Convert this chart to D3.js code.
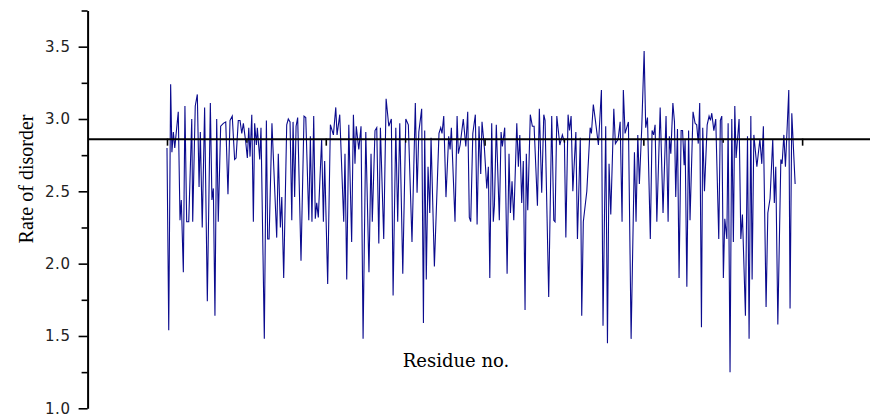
<!DOCTYPE html>
<meta charset="UTF-8">
<script src="https://d3js.org/d3.v7.min.js"></script>
<style>
  body { margin: 0; background: #fff; }
</style>
<body>
<div id="my_dataviz"></div>
<script>

// residue positions (turning points of the trace)
const residues = [
  0.0, 1.1, 2.3, 3.1, 4.0, 4.9, 7.1, 8.2, 9.0, 10.3, 11.3, 12.4, 13.7, 15.6, 16.2, 17.8, 19.1, 20.2, 21.0, 22.2,
  23.7, 25.4, 27.3, 28.3, 29.2, 30.2, 31.3, 32.3, 33.8, 35.5, 37.0, 38.4, 39.7, 41.1, 42.6, 43.5, 44.9, 46.0, 47.1, 48.1,
  49.6, 50.6, 51.5, 52.3, 53.4, 54.4, 55.2, 56.3, 56.9, 58.4, 59.2, 61.3, 62.6, 63.4, 64.3, 66.1, 69.1, 70.1, 71.4, 72.3,
  73.5, 75.4, 76.4, 77.5, 78.6, 79.4, 80.4, 81.3, 82.3, 84.4, 86.3, 87.4, 89.3, 90.3, 91.3, 92.4, 93.4, 94.3, 95.3, 97.4,
  98.5, 99.3, 101.2, 102.9, 104.8, 106.3, 107.1, 108.8, 111.3, 112.1, 113.2, 114.5, 116.3, 117.4, 118.4, 119.2, 120.8, 122.2, 123.5, 125.2,
  127.2, 128.5, 129.3, 131.0, 132.1, 133.4, 134.4, 136.5, 138.0, 139.7, 141.3, 142.4, 144.1, 145.3, 146.6, 148.5, 150.4, 152.0, 154.3, 156.4,
  157.5, 158.6, 160.4, 161.5, 162.3, 163.3, 164.4, 165.5, 166.3, 168.4, 171.3, 172.4, 173.2, 174.3, 175.7, 177.4, 178.3, 179.1, 181.4, 182.7,
  183.5, 184.6, 186.6, 188.2, 189.4, 190.4, 191.3, 192.6, 194.2, 195.3, 196.5, 197.6, 198.4, 199.9, 201.4, 202.4, 203.3, 204.5, 205.5, 206.2,
  207.4, 209.3, 210.4, 211.2, 212.7, 214.2, 215.4, 216.3, 217.3, 218.4, 220.3, 221.3, 222.2, 223.4, 224.4, 225.5, 226.3, 227.2, 228.8, 230.1,
  231.2, 233.3, 234.5, 236.0, 237.3, 238.1, 240.4, 242.3, 243.6, 244.4, 245.5, 247.4, 249.0, 250.3, 251.2, 252.6, 253.5, 254.5, 255.6, 257.5,
  258.5, 260.3, 261.2, 262.2, 264.4, 266.5, 267.3, 268.5, 269.8, 271.7, 273.6, 274.6, 276.3, 277.4, 278.4, 279.5, 281.4, 282.4, 284.1, 285.4,
  286.6, 287.4, 288.5, 290.6, 292.3, 294.4, 295.4, 296.5, 297.5, 299.0, 300.5, 301.5, 302.6, 304.4, 305.5, 306.5, 307.4, 308.5, 310.6, 312.4,
  314.3, 315.6, 316.4, 317.3, 318.6, 319.6, 320.4, 321.5, 322.5, 323.8, 324.7, 325.7, 326.3, 327.4, 328.5, 329.4, 331.3, 332.6, 333.6, 334.6,
  335.5, 336.6, 337.4, 338.5, 340.2, 341.4, 342.3, 343.1, 344.4, 345.6, 347.5, 348.5, 349.4, 350.4, 351.3, 352.6, 353.4, 354.6, 355.7, 356.7,
  357.6, 358.4, 360.3, 361.4, 362.4, 364.3, 365.6, 366.6, 367.7, 368.5, 369.6, 371.5, 373.4, 374.6, 375.6, 377.3, 378.4, 379.8, 381.5, 382.5,
  383.4, 384.7, 386.6, 387.4, 388.5, 389.5, 391.6, 392.4, 393.5, 395.6
];

// rate of disorder at those residues
const disorder = [
  2.80, 1.54, 3.24, 2.77, 2.91, 2.80, 3.05, 2.30, 2.44, 1.94, 3.09, 2.29, 2.29, 3.00, 2.29, 3.09, 3.17, 2.53, 2.91, 2.25,
  3.08, 1.74, 3.11, 2.44, 2.52, 1.64, 3.00, 2.29, 2.95, 2.97, 2.98, 2.48, 2.99, 3.02, 2.72, 2.73, 2.99, 2.99, 2.90, 2.97,
  2.84, 2.73, 2.94, 2.74, 3.03, 2.29, 2.97, 2.82, 2.94, 2.72, 2.94, 1.48, 2.99, 2.17, 2.17, 2.97, 2.18, 2.76, 2.25, 2.46,
  1.90, 2.96, 3.00, 2.98, 2.30, 2.98, 2.46, 2.95, 3.01, 2.02, 3.02, 3.01, 2.30, 2.88, 2.29, 3.02, 2.31, 2.42, 2.32, 2.86,
  2.29, 2.71, 1.86, 2.96, 2.89, 3.08, 2.89, 3.03, 2.29, 2.76, 1.89, 2.96, 2.15, 3.03, 2.69, 2.95, 2.79, 2.95, 1.48, 2.91,
  1.94, 2.76, 2.29, 2.92, 2.94, 2.14, 2.94, 2.17, 3.14, 2.95, 3.00, 1.78, 2.94, 2.29, 2.97, 1.93, 3.00, 2.96, 2.15, 3.11,
  2.49, 2.91, 3.07, 1.59, 2.92, 1.89, 2.67, 2.35, 2.87, 1.98, 2.90, 2.94, 2.90, 3.02, 2.46, 2.88, 2.79, 2.94, 2.29, 3.02,
  2.76, 2.82, 3.00, 2.81, 3.05, 2.32, 2.29, 2.90, 3.03, 2.27, 2.95, 2.62, 2.98, 2.80, 2.52, 2.67, 1.90, 2.97, 2.29, 2.40,
  2.96, 2.30, 2.91, 2.81, 2.94, 1.93, 2.76, 2.35, 2.57, 2.30, 2.97, 2.67, 2.89, 2.42, 2.71, 1.68, 2.76, 2.37, 3.03, 2.95,
  2.95, 2.40, 3.07, 2.49, 3.03, 2.99, 1.77, 3.02, 2.30, 2.29, 3.02, 2.82, 2.89, 2.84, 2.18, 3.03, 2.92, 3.02, 2.50, 2.91,
  2.17, 2.87, 1.64, 2.29, 2.50, 2.94, 2.90, 3.10, 2.99, 2.82, 3.20, 1.57, 2.95, 1.45, 2.69, 2.34, 3.07, 2.83, 2.86, 2.98,
  2.29, 3.20, 2.90, 2.98, 1.48, 2.77, 2.29, 2.89, 2.55, 2.94, 3.47, 2.94, 3.01, 2.17, 2.92, 2.89, 2.96, 2.29, 3.08, 2.35,
  3.02, 2.29, 2.88, 2.76, 3.11, 2.98, 2.46, 2.93, 1.90, 2.92, 2.92, 2.68, 2.86, 1.84, 2.92, 2.30, 3.05, 2.97, 2.96, 2.83,
  3.11, 1.56, 2.94, 2.50, 2.96, 3.02, 2.99, 3.04, 2.92, 3.00, 2.17, 2.99, 3.02, 1.90, 2.31, 2.17, 2.97, 1.25, 3.00, 2.15,
  3.09, 2.73, 3.00, 2.17, 2.34, 1.64, 2.88, 1.48, 3.02, 1.89, 2.89, 2.67, 2.86, 2.69, 2.95, 1.70, 2.35, 2.45, 2.86, 2.42,
  2.67, 1.58, 2.72, 2.69, 2.89, 2.67, 3.20, 1.69, 3.04, 2.55
];

// level where the residue axis crosses
const meanDisorder = 2.864;

const yMajorTicks = [1.0, 1.5, 2.0, 2.5, 3.0, 3.5];
const yMinorTicks = [1.25, 1.75, 2.25, 2.75, 3.25, 3.75];
const xMajorTicks = [0, 100, 200, 300, 400];
const xMinorTicks = [50, 150, 250, 350];

const width = 870, height = 415;

var svg = d3.select("#my_dataviz")
  .append("svg")
    .attr("width", width)
    .attr("height", height);

var x = d3.scaleLinear()
    .domain([-50, 443])
    .range([87.6, 870.4]);

var y = d3.scaleLinear()
    .domain([1.0, 3.75])
    .range([408.3, 10.5]);

var data = residues.map(function(r, i) { return {r: r, v: disorder[i]}; });

// the disorder trace
svg.append("path")
  .datum(data)
  .attr("fill", "none")
  .attr("stroke", "#0b0b8e")
  .attr("stroke-width", 1.1)
  .attr("d", d3.line()
      .x(function(d) { return x(d.r); })
      .y(function(d) { return y(d.v); }));

// Y axis, major ticks with labels
var yAxis = svg.append("g")
    .attr("transform", "translate(" + x(-50) + ",0)")
    .call(d3.axisLeft(y).tickValues(yMajorTicks).tickSize(9).tickSizeOuter(0)
      .tickFormat(d3.format(".1f")));
yAxis.selectAll("text")
    .attr("x", -17)
    .style("font-family", "'DejaVu Sans', Verdana, sans-serif")
    .style("font-size", "15px")
    .style("letter-spacing", "0.6px")
    .attr("fill", "#222");

// minor ticks
svg.append("g")
    .attr("transform", "translate(" + x(-50) + ",0)")
    .call(d3.axisLeft(y).tickValues(yMinorTicks).tickSize(6).tickSizeOuter(0).tickFormat(""))
    .select(".domain").remove();

svg.selectAll(".domain").attr("stroke-width", 2);
svg.selectAll(".tick line").attr("stroke-width", 1.6);

// residue axis crossing at the mean level
var xAxis = svg.append("g")
    .attr("transform", "translate(0," + y(meanDisorder) + ")")
    .call(d3.axisBottom(x).tickValues(xMajorTicks).tickSize(7).tickSizeOuter(0).tickFormat(""));
xAxis.select(".domain").attr("stroke-width", 2);
xAxis.selectAll(".tick line").attr("stroke-width", 1.6);

svg.append("g")
    .attr("transform", "translate(0," + y(meanDisorder) + ")")
    .call(d3.axisBottom(x).tickValues(xMinorTicks).tickSize(4).tickSizeOuter(0).tickFormat(""))
    .call(function(g) { g.select(".domain").remove(); })
    .selectAll(".tick line").attr("stroke-width", 1.4);

// axis titles
svg.append("text")
    .attr("transform", "translate(33,179) rotate(-90)")
    .attr("text-anchor", "middle")
    .style("font-family", "'Liberation Serif', 'Times New Roman', serif")
    .style("font-size", "20px")
    .text("Rate of disorder");

svg.append("text")
    .attr("x", 456)
    .attr("y", 367)
    .attr("text-anchor", "middle")
    .style("font-family", "'DejaVu Serif', serif")
    .style("font-size", "18px")
    .text("Residue no.");

</script>
</body>
